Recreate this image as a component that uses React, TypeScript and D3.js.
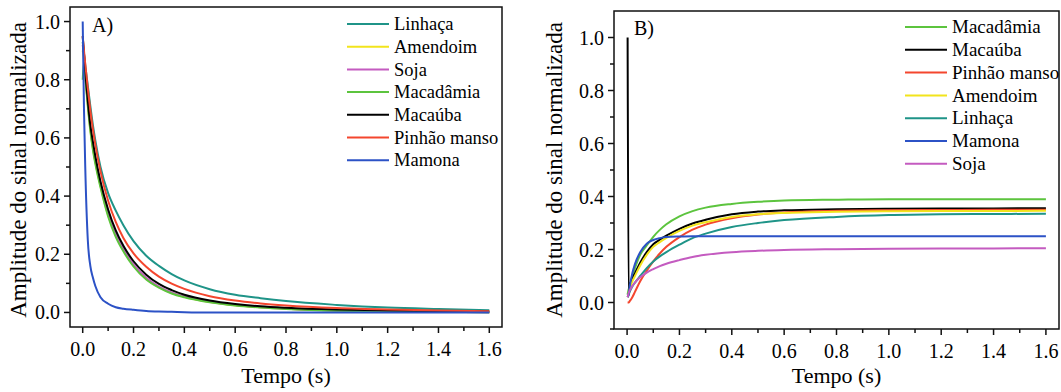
import React, { useEffect, useRef } from 'react';
import * as d3 from 'd3';

// Panel A: signal decay (Tempo in s)
const timeA = [0, 0.005, 0.01, 0.02, 0.03, 0.04, 0.05, 0.07, 0.1, 0.13, 0.16, 0.2, 0.25, 0.3, 0.35, 0.4, 0.5, 0.6, 0.7, 0.8, 1.0, 1.2, 1.4, 1.6];
const linhacaA = [0.93, 0.89, 0.85, 0.78, 0.71, 0.645, 0.59, 0.5, 0.41, 0.35, 0.3, 0.245, 0.195, 0.16, 0.132, 0.11, 0.08, 0.061, 0.049, 0.039, 0.026, 0.017, 0.012, 0.008];
const amendoimA = [0.9, 0.87, 0.815, 0.715, 0.63, 0.565, 0.515, 0.435, 0.335, 0.265, 0.214, 0.162, 0.116, 0.087, 0.067, 0.054, 0.036, 0.025, 0.018, 0.013, 0.007, 0.004, 0.002, 0.001];
const sojaA = [0.92, 0.88, 0.82, 0.72, 0.635, 0.57, 0.52, 0.44, 0.34, 0.27, 0.218, 0.165, 0.119, 0.089, 0.069, 0.055, 0.037, 0.026, 0.018, 0.013, 0.007, 0.004, 0.002, 0.001];
const macadamiaA = [0.8, 0.86, 0.81, 0.71, 0.625, 0.56, 0.51, 0.43, 0.33, 0.26, 0.21, 0.158, 0.113, 0.085, 0.065, 0.052, 0.035, 0.024, 0.017, 0.012, 0.006, 0.004, 0.002, 0.001];
const macaubaA = [0.95, 0.89, 0.83, 0.73, 0.645, 0.588, 0.536, 0.45, 0.354, 0.282, 0.229, 0.176, 0.13, 0.098, 0.077, 0.061, 0.041, 0.029, 0.021, 0.016, 0.01, 0.007, 0.005, 0.003];
const pinhaoA = [0.95, 0.9, 0.855, 0.77, 0.695, 0.63, 0.575, 0.485, 0.384, 0.311, 0.256, 0.203, 0.157, 0.123, 0.099, 0.081, 0.056, 0.041, 0.031, 0.024, 0.015, 0.01, 0.007, 0.004];
const mamonaA = [1.0, 0.7, 0.5, 0.25, 0.16, 0.12, 0.09, 0.052, 0.03, 0.018, 0.013, 0.009, 0.005, 0.003, 0.002, 0.001, 0, 0, 0, 0, 0, 0, 0, 0];

// Panel B: signal recovery
const timeB = [0.002, 0.006, 0.01, 0.02, 0.03, 0.05, 0.075, 0.1, 0.125, 0.15, 0.2, 0.25, 0.3, 0.4, 0.5, 0.6, 0.8, 1.0, 1.2, 1.4, 1.6];
const macadamiaB = [0.03, 0.05, 0.06, 0.1, 0.13, 0.18, 0.215, 0.248, 0.274, 0.295, 0.325, 0.345, 0.358, 0.372, 0.38, 0.385, 0.388, 0.39, 0.39, 0.39, 0.39];
const macaubaB = [1.0, 0.03, 0.06, 0.09, 0.11, 0.15, 0.19, 0.22, 0.237, 0.252, 0.278, 0.298, 0.312, 0.333, 0.343, 0.348, 0.352, 0.354, 0.355, 0.355, 0.356];
const pinhaoB = [0.0, 0.0, 0.005, 0.02, 0.04, 0.08, 0.12, 0.155, 0.185, 0.21, 0.247, 0.275, 0.294, 0.318, 0.332, 0.34, 0.346, 0.348, 0.349, 0.35, 0.35];
const amendoimB = [0.02, 0.03, 0.05, 0.08, 0.1, 0.14, 0.18, 0.21, 0.228, 0.244, 0.27, 0.29, 0.303, 0.323, 0.333, 0.338, 0.342, 0.344, 0.345, 0.345, 0.346];
const linhacaB = [0.02, 0.03, 0.04, 0.06, 0.075, 0.1, 0.13, 0.155, 0.174, 0.19, 0.218, 0.243, 0.26, 0.285, 0.3, 0.311, 0.323, 0.33, 0.333, 0.334, 0.335];
const mamonaB = [0.02, 0.03, 0.06, 0.11, 0.145, 0.19, 0.222, 0.236, 0.243, 0.247, 0.249, 0.25, 0.25, 0.25, 0.25, 0.25, 0.25, 0.25, 0.25, 0.25, 0.25];
const sojaB = [0.02, 0.035, 0.045, 0.062, 0.075, 0.095, 0.113, 0.126, 0.137, 0.146, 0.16, 0.172, 0.18, 0.19, 0.195, 0.198, 0.201, 0.203, 0.204, 0.204, 0.205];

const xTicks = [0, 0.2, 0.4, 0.6, 0.8, 1.0, 1.2, 1.4, 1.6];
const yTicks = [0, 0.2, 0.4, 0.6, 0.8, 1.0];

const colors = {
  Linhaça: '#1f9488',
  Amendoim: '#f2e41c',
  Soja: '#c45bc0',
  Macadâmia: '#5cc43e',
  Macaúba: '#000000',
  'Pinhão manso': '#f4462e',
  Mamona: '#2c52c6',
};

const seriesA = [
  { name: 'Linhaça', values: linhacaA },
  { name: 'Amendoim', values: amendoimA },
  { name: 'Soja', values: sojaA },
  { name: 'Macadâmia', values: macadamiaA },
  { name: 'Macaúba', values: macaubaA },
  { name: 'Pinhão manso', values: pinhaoA },
  { name: 'Mamona', values: mamonaA },
];

const seriesB = [
  { name: 'Macadâmia', values: macadamiaB },
  { name: 'Macaúba', values: macaubaB },
  { name: 'Pinhão manso', values: pinhaoB },
  { name: 'Amendoim', values: amendoimB },
  { name: 'Linhaça', values: linhacaB },
  { name: 'Mamona', values: mamonaB },
  { name: 'Soja', values: sojaB },
];

const FONT = '"Liberation Serif", "Times New Roman", serif';

function drawPanel(svg, opts) {
  const { left, right, top, bottom, yDomain, times, series, label, labelPos, legend, titleX } = opts;
  const x = d3.scaleLinear().domain([-0.05, 1.65]).range([left, right]);
  const y = d3.scaleLinear().domain(yDomain).range([bottom, top]);
  const g = svg.append('g');

  const clipId = 'clip-' + label.replace(/\W/g, '');
  g.append('clipPath').attr('id', clipId)
    .append('rect').attr('x', left).attr('y', top).attr('width', right - left).attr('height', bottom - top);

  // curves
  const line = d3.line()
    .x((d) => x(d[0]))
    .y((d) => y(d[1]))
    .curve(d3.curveMonotoneX);
  const curves = g.append('g').attr('clip-path', `url(#${clipId})`);
  series.forEach((s) => {
    curves.append('path')
      .datum(times.map((t, i) => [t, s.values[i]]))
      .attr('fill', 'none')
      .attr('stroke', colors[s.name])
      .attr('stroke-width', 2)
      .attr('d', line);
  });

  // frame
  g.append('rect')
    .attr('x', left).attr('y', top)
    .attr('width', right - left).attr('height', bottom - top)
    .attr('fill', 'none').attr('stroke', '#111').attr('stroke-width', 1.5);

  // x ticks
  const xMinor = d3.range(0, 1.65, 0.1);
  g.append('g').selectAll('line').data(xMinor).enter().append('line')
    .attr('x1', (d) => x(d)).attr('x2', (d) => x(d))
    .attr('y1', bottom).attr('y2', (d, i) => bottom + (i % 2 === 0 ? 6 : 4))
    .attr('stroke', '#111').attr('stroke-width', 1.5);
  g.append('g').selectAll('text').data(xTicks).enter().append('text')
    .attr('x', (d) => x(d)).attr('y', bottom + 29)
    .attr('text-anchor', 'middle')
    .attr('font-family', FONT).attr('font-size', 20)
    .text((d) => d3.format('.1f')(d));

  // y ticks
  const yMinor = d3.range(yDomain[0] < -0.06 ? -0.1 : 0, 1.05, 0.1).filter((v) => v >= yDomain[0] - 1e-9);
  g.append('g').selectAll('line').data(yMinor).enter().append('line')
    .attr('y1', (d) => y(d)).attr('y2', (d) => y(d))
    .attr('x1', left).attr('x2', (d) => left - (Math.abs(Math.round(d * 10)) % 2 === 0 ? 6 : 4))
    .attr('stroke', '#111').attr('stroke-width', 1.5);
  g.append('g').selectAll('text').data(yTicks).enter().append('text')
    .attr('x', left - 10).attr('y', (d) => y(d))
    .attr('dy', '0.35em')
    .attr('text-anchor', 'end')
    .attr('font-family', FONT).attr('font-size', 20)
    .text((d) => d3.format('.1f')(d));

  // axis titles
  g.append('text')
    .attr('x', (left + right) / 2).attr('y', 383)
    .attr('text-anchor', 'middle')
    .attr('font-family', FONT).attr('font-size', 22)
    .text('Tempo (s)');
  g.append('text')
    .attr('transform', `translate(${titleX},170) rotate(-90)`)
    .attr('text-anchor', 'middle')
    .attr('font-family', FONT).attr('font-size', 23)
    .text('Amplitude do sinal normalizada');

  // panel label
  g.append('text')
    .attr('x', labelPos[0]).attr('y', labelPos[1])
    .attr('font-family', FONT).attr('font-size', 20)
    .text(label);

  // legend
  const lg = g.append('g').selectAll('g').data(series).enter().append('g')
    .attr('transform', (d, i) => `translate(${legend.x},${legend.y + i * legend.step})`);
  lg.append('line')
    .attr('x1', 0).attr('x2', 42).attr('y1', 0).attr('y2', 0)
    .attr('stroke', (d) => colors[d.name]).attr('stroke-width', 2);
  lg.append('text')
    .attr('x', 47).attr('y', 0).attr('dy', '0.33em')
    .attr('font-family', FONT).attr('font-size', legend.size)
    .text((d) => d.name);
}

const App = () => {
  const ref = useRef(null);

  useEffect(() => {
    const root = d3.select(ref.current);
    root.selectAll('*').remove();
    const svg = root.append('svg')
      .attr('width', 1061)
      .attr('height', 392)
      .style('display', 'block')
      .style('background', '#fff');

    drawPanel(svg, {
      left: 70, right: 502, top: 7, bottom: 327,
      yDomain: [-0.05, 1.05],
      times: timeA, series: seriesA,
      label: 'A)', labelPos: [92, 32],
      legend: { x: 347, y: 24, step: 22.7, size: 18.5 },
      titleX: 26,
    });
    drawPanel(svg, {
      left: 614, right: 1059, top: 11, bottom: 329,
      yDomain: [-0.1, 1.1],
      times: timeB, series: seriesB,
      label: 'B)', labelPos: [634, 35],
      legend: { x: 905, y: 27, step: 22.8, size: 19 },
      titleX: 562,
    });
  }, []);

  return <div ref={ref} style={{ position: 'absolute', left: 0, top: 0, width: 1061, height: 392 }}></div>;
};

export default App;
